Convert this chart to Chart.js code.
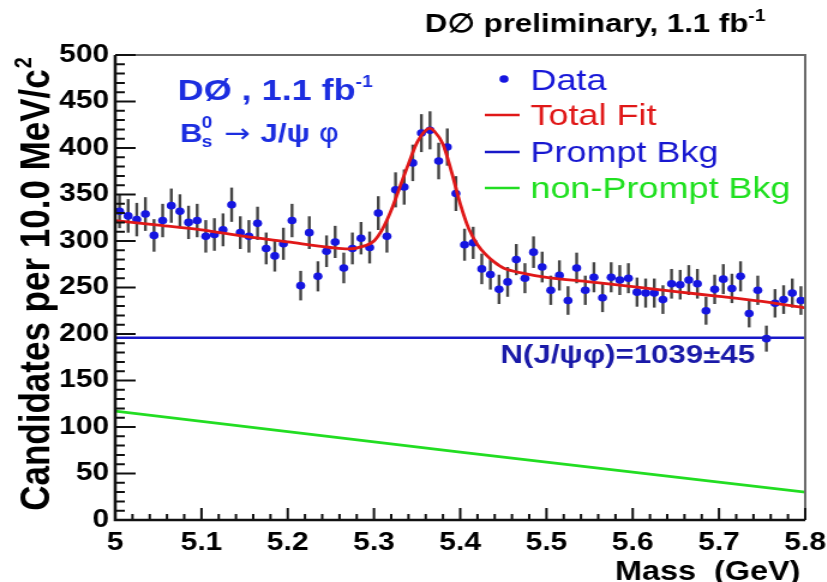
<!DOCTYPE html>
<html>
<head>
<meta charset="utf-8">
<script src="https://cdn.jsdelivr.net/npm/chart.js@4.4.1/dist/chart.umd.min.js"></script>
<style>
  html, body { margin: 0; padding: 0; background: #fff; overflow: hidden; }
  /* the plot is drawn narrow and stretched sideways, like the original ROOT canvas */
  #wrap { width: 689px; height: 582px; transform: scaleX(1.2); transform-origin: 0 0; }
</style>
</head>
<body>
<div id="wrap"><canvas id="massPlot" width="689" height="582"></canvas></div>
<script>
// ===================================
// DATA
// ===================================

// 10 MeV bins from 5.0 to 5.8 GeV
const binStart = 5.0;
const binWidth = 0.01;

// candidates per bin
const candidates = [
  332, 327, 323, 329, 306, 322, 338, 332, 320, 322,
  305, 307, 312, 339, 309, 305, 319, 292, 284, 297,
  322, 252, 309, 262, 289, 299, 271, 292, 303, 293,
  330, 305, 355, 358, 384, 416, 419, 386, 401, 351,
  296, 298, 270, 264, 248, 256, 280, 260, 288, 272,
  247, 263, 236, 271, 247, 261, 239, 261, 258, 260,
  245, 244, 244, 237, 254, 253, 258, 254, 225, 248,
  259, 249, 262, 222, 247, 195, 233, 237, 244, 236
];

// total fit curve
const fitMass = [5.00, 5.05, 5.10, 5.15, 5.20, 5.25, 5.27, 5.29, 5.30, 5.31,
  5.32, 5.33, 5.34, 5.35, 5.36, 5.365, 5.37, 5.38, 5.39, 5.40,
  5.41, 5.42, 5.43, 5.44, 5.45, 5.475, 5.50, 5.55, 5.60, 5.65,
  5.70, 5.75, 5.80];
const fitValues = [322, 317, 312, 305, 299, 293, 291.5, 295, 300, 313,
  333, 358, 383, 406, 419, 421, 418, 404, 374, 340,
  313, 296, 285, 277, 271, 265, 261, 256, 251, 245.5,
  240.5, 235, 228];

// background components
const promptMass = [5.0, 5.8];
const promptValues = [196, 196];
const nonPromptMass = [5.0, 5.4, 5.8];
const nonPromptValues = [117, 73, 30];

const yTicks = { min: 0, max: 500, step: 50, minor: 10 };
const xTicks = { min: 5, max: 5.8, step: 0.1, minor: 0.02 };

// ===================================
// HELPERS
// ===================================

function toPoints(xs, ys) {
  return xs.map((x, i) => ({ x: x, y: ys[i] }));
}

const dataPoints = candidates.map((n, i) => ({
  x: binStart + binWidth * (i + 0.5),
  y: n
}));

// text runs: [text, font, colour, baseline shift]
function drawRuns(ctx, x, y, runs) {
  let cx = x;
  runs.forEach(r => {
    ctx.font = r[1];
    ctx.fillStyle = r[2];
    ctx.fillText(r[0], cx, y + (r[3] || 0));
    cx += ctx.measureText(r[0]).width;
  });
}

const BLUE = "#1c2ee0";
const B = "bold 30px Arial, 'Liberation Sans', sans-serif";
const B26 = "bold 26px Arial, 'Liberation Sans', sans-serif";
const S16 = "bold 16px Arial, 'Liberation Sans', sans-serif";
const N30 = "30px Arial, 'Liberation Sans', sans-serif";

// ===================================
// ROOT-STYLE FRAME, ERROR BARS, TEXT
// ===================================
const rootStyle = {
  id: "rootStyle",

  beforeDatasetsDraw(chart) {
    const ctx = chart.ctx;
    const xs = chart.scales.x;
    const ys = chart.scales.y;
    ctx.save();
    ctx.strokeStyle = "#444";
    ctx.lineWidth = 2.4;
    dataPoints.forEach(p => {
      const err = Math.sqrt(p.y);
      const px = xs.getPixelForValue(p.x);
      ctx.beginPath();
      ctx.moveTo(px, ys.getPixelForValue(p.y - err));
      ctx.lineTo(px, ys.getPixelForValue(p.y + err));
      ctx.stroke();
    });
    ctx.restore();
  },

  afterDatasetsDraw(chart) {
    const ctx = chart.ctx;
    const a = chart.chartArea;
    const xs = chart.scales.x;
    const ys = chart.scales.y;
    ctx.save();

    // top and right border
    ctx.strokeStyle = "#6a6a6a";
    ctx.lineWidth = 2;
    ctx.beginPath();
    ctx.moveTo(a.left, a.top);
    ctx.lineTo(a.right, a.top);
    ctx.lineTo(a.right, a.bottom);
    ctx.stroke();

    // axes
    ctx.strokeStyle = "#111";
    ctx.lineWidth = 2.6;
    ctx.beginPath();
    ctx.moveTo(a.left, a.top);
    ctx.lineTo(a.left, a.bottom);
    ctx.lineTo(a.right, a.bottom);
    ctx.stroke();

    // tick marks, drawn inwards
    ctx.lineWidth = 2;
    ctx.beginPath();
    for (let v = yTicks.min; v <= yTicks.max + 0.001; v += yTicks.minor) {
      const py = ys.getPixelForValue(v);
      const major = Math.round(v) % yTicks.step === 0;
      ctx.moveTo(a.left, py);
      ctx.lineTo(a.left + (major ? 17 : 8), py);
    }
    for (let k = 0; k <= 40; k++) {
      const v = xTicks.min + k * xTicks.minor;
      const px = xs.getPixelForValue(v);
      const major = k % 5 === 0;
      ctx.moveTo(px, a.bottom);
      ctx.lineTo(px, a.bottom - (major ? 12 : 6));
    }
    ctx.stroke();

    // header
    ctx.textBaseline = "alphabetic";
    drawRuns(ctx, 354, 32, [
      ["D\u2205 preliminary, 1.1 fb", "bold 26px Arial, sans-serif", "#000"],
      ["-1", S16, "#000", -11]
    ]);

    // experiment and channel
    drawRuns(ctx, 148, 100, [
      ["D\u00d8 , 1.1 fb", B, BLUE],
      ["-1", S16, BLUE, -13]
    ]);
    drawRuns(ctx, 150, 142, [["B", B26, BLUE]]);
    ctx.font = S16;
    ctx.fillText("0", 168, 128);
    ctx.fillText("s", 168, 147);
    drawRuns(ctx, 187, 142, [
      ["\u2192 ", "26px 'DejaVu Sans', sans-serif", BLUE],
      ["J/\u03c8 ", B26, BLUE],
      ["\u03c6", "26px 'DejaVu Sans', sans-serif", BLUE]
    ]);

    // legend
    const lx = 404;
    ctx.textBaseline = "middle";
    ctx.fillStyle = "#1515e0";
    ctx.beginPath();
    ctx.arc(lx + 16, 79, 3.8, 0, Math.PI * 2);
    ctx.fill();
    const rows = [
      ["Data", "#1818d8", null, 80],
      ["Total Fit", "#e01818", "#e01818", 115],
      ["Prompt Bkg", "#1818d0", "#1818c8", 152],
      ["non-Prompt Bkg", "#20e020", "#22dd22", 188]
    ];
    rows.forEach(r => {
      if (r[2]) {
        ctx.strokeStyle = r[2];
        ctx.lineWidth = 2.5;
        ctx.beginPath();
        ctx.moveTo(lx, r[3]);
        ctx.lineTo(lx + 29, r[3]);
        ctx.stroke();
      }
      ctx.font = N30;
      ctx.fillStyle = r[1];
      ctx.fillText(r[0], 442, r[3] + 2);
    });

    // signal yield
    ctx.textBaseline = "alphabetic";
    drawRuns(ctx, 417, 363, [
      ["N(J/\u03c8\u03c6)=1039\u00b145", "bold 26px Arial, sans-serif", "#1a1aa8"]
    ]);

    // axis titles
    ctx.fillStyle = "#000";
    ctx.font = "bold 27px Arial, sans-serif";
    ctx.textAlign = "right";
    ctx.fillText("Mass  (GeV)", 667, 580);

    ctx.save();
    ctx.translate(41, 282);
    ctx.rotate(-Math.PI / 2);
    ctx.textAlign = "center";
    ctx.font = "bold 35px Arial, sans-serif";
    const title = "Candidates per 10.0 MeV/c";
    const w = ctx.measureText(title).width;
    ctx.fillText(title, -8, 0);
    ctx.font = "bold 20px Arial, sans-serif";
    ctx.textAlign = "left";
    ctx.fillText("2", w / 2 - 7, -15);
    ctx.restore();

    ctx.restore();
  }
};

// ===================================
// CHART
// ===================================
const tickFont = { family: "Arial, 'Liberation Sans', sans-serif", size: 25, weight: "bold" };

new Chart(document.getElementById("massPlot"), {
  type: "scatter",
  data: {
    datasets: [
      {
        label: "Total Fit",
        data: toPoints(fitMass, fitValues),
        showLine: true,
        borderColor: "#e01818",
        borderWidth: 2.8,
        pointRadius: 0,
        cubicInterpolationMode: "monotone"
      },
      {
        label: "Prompt Bkg",
        data: toPoints(promptMass, promptValues),
        showLine: true,
        borderColor: "#1818c8",
        borderWidth: 2.4,
        pointRadius: 0
      },
      {
        label: "non-Prompt Bkg",
        data: toPoints(nonPromptMass, nonPromptValues),
        showLine: true,
        borderColor: "#22dd22",
        borderWidth: 2.8,
        pointRadius: 0
      },
      {
        label: "Data",
        data: dataPoints,
        backgroundColor: "#1515e0",
        borderWidth: 0,
        pointRadius: 3.8
      }
    ]
  },
  options: {
    responsive: false,
    animation: false,
    devicePixelRatio: 1,
    layout: { padding: { top: 55, right: 18, left: 0, bottom: 0 } },
    plugins: {
      legend: { display: false },
      tooltip: { enabled: false }
    },
    scales: {
      x: {
        type: "linear",
        min: xTicks.min,
        max: xTicks.max,
        grid: { display: false, drawTicks: false },
        border: { display: false },
        ticks: {
          stepSize: xTicks.step,
          autoSkip: false,
          maxRotation: 0,
          padding: 8,
          color: "#000",
          font: tickFont,
          callback: v => {
            const r = Math.round(v * 10) / 10;
            return r === 5 ? "5" : r.toFixed(1);
          }
        },
        afterFit: s => { s.height = 62; s.paddingLeft = 0; s.paddingRight = 0; }
      },
      y: {
        min: yTicks.min,
        max: yTicks.max,
        grid: { display: false, drawTicks: false },
        border: { display: false },
        ticks: {
          stepSize: yTicks.step,
          padding: 5,
          color: "#000",
          font: tickFont
        },
        afterFit: s => { s.width = 96; s.paddingTop = 0; s.paddingBottom = 0; }
      }
    }
  },
  plugins: [rootStyle]
});
</script>
</body>
</html>
